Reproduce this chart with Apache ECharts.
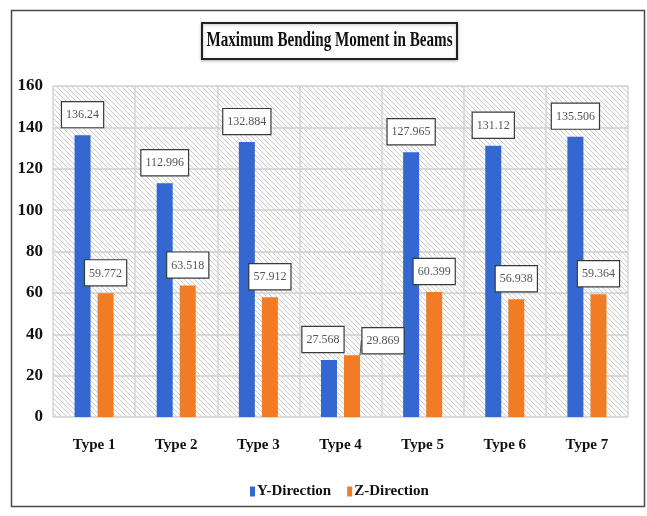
<!DOCTYPE html>
<html>
<head>
<meta charset="utf-8">
<script src="https://cdn.jsdelivr.net/npm/echarts@6/dist/echarts.min.js"></script>
<style>
  html, body { margin: 0; padding: 0; background: #fff; }
  #chart { width: 647px; height: 516px; }
</style>
</head>
<body>
<div id="chart"></div>
<script>
// Beam bending moments per section type
const categories = ['Type 1', 'Type 2', 'Type 3', 'Type 4', 'Type 5', 'Type 6', 'Type 7'];
const yDirection = [136.24, 112.996, 132.884, 27.568, 127.965, 131.12, 135.506];
const zDirection = [59.772, 63.518, 57.912, 29.869, 60.399, 56.938, 59.364];
const valueTicks = [0, 20, 40, 60, 80, 100, 120, 140, 160];

// horizontal nudges (px) for value boxes so they sit clear of neighbours
const yLabelShift = [0, 0, 0, -6, 0, 0, 0];
const zLabelShift = [12, 13, 0, 0, 15, 16, 18];
// the one Z box that is pulled aside and tied back with a leader line
const calloutIndex = 3;

const SERIF = "'Liberation Serif', 'Times New Roman', serif";

// fine diagonal hatching for the plot background
function hatchPattern() {
  const c = document.createElement('canvas');
  c.width = 5; c.height = 5;
  const g = c.getContext('2d');
  g.fillStyle = '#fbfbfb';
  g.fillRect(0, 0, 5, 5);
  g.strokeStyle = '#cfcfcf';
  g.lineWidth = 1;
  g.beginPath();
  g.moveTo(-1, -1); g.lineTo(6, 6);
  g.moveTo(-1, 4); g.lineTo(1, 6);
  g.moveTo(4, -1); g.lineTo(6, 1);
  g.stroke();
  return c;
}

const boxLabel = {
  show: true,
  position: 'top',
  distance: 8,
  fontFamily: SERIF,
  fontSize: 12,
  color: '#555',
  backgroundColor: '#fff',
  borderColor: '#3a3a3a',
  borderWidth: 1.2,
  padding: [7, 4, 6, 4],
  formatter: p => String(p.value)
};

const yData = yDirection.map((v, i) => ({ value: v, label: { offset: [yLabelShift[i], 0] } }));
const zData = zDirection.map((v, i) => (
  i === calloutIndex
    ? { value: v, labelLine: { show: true, lineStyle: { color: '#555', width: 1 } } }
    : { value: v, label: { offset: [zLabelShift[i], 0] } }
));

const chart = echarts.init(document.getElementById('chart'), null, { renderer: 'canvas' });

chart.setOption({
  animation: false,
  backgroundColor: '#fff',
  textStyle: { fontFamily: SERIF },
  grid: {
    left: 53, right: 19, top: 86, bottom: 99,
    show: true,
    borderWidth: 0,
    backgroundColor: { image: hatchPattern(), repeat: 'repeat' }
  },
  legend: {
    left: 245, top: 479,
    itemWidth: 5, itemHeight: 10, itemGap: 16,
    icon: 'rect',
    textStyle: { fontFamily: SERIF, fontWeight: 'bold', fontSize: 15, color: '#111', padding: [0, 0, 0, -3] },
    data: ['Y-Direction', 'Z-Direction']
  },
  xAxis: {
    type: 'category',
    data: categories,
    axisLine: { show: false },
    axisTick: { show: false },
    axisLabel: { margin: 21, fontFamily: SERIF, fontWeight: 'bold', fontSize: 15, color: '#111' },
    splitLine: { show: true, lineStyle: { color: '#d4d4d4', width: 1.5 } }
  },
  yAxis: {
    type: 'value',
    min: valueTicks[0],
    max: valueTicks[valueTicks.length - 1],
    interval: valueTicks[1] - valueTicks[0],
    axisLine: { show: false },
    axisTick: { show: false },
    axisLabel: { margin: 10, fontFamily: SERIF, fontWeight: 'bold', fontSize: 17, color: '#111' },
    splitLine: { show: true, lineStyle: { color: '#cfcfcf', width: 1.5 } }
  },
  series: [
    {
      name: 'Y-Direction',
      type: 'bar',
      data: yData,
      barWidth: 16,
      barGap: '44%',
      itemStyle: { color: '#3468d0' },
      label: boxLabel
    },
    {
      name: 'Z-Direction',
      type: 'bar',
      data: zData,
      barWidth: 16,
      barGap: '44%',
      itemStyle: { color: '#f27c25' },
      label: boxLabel,
      labelLayout: p => (p.dataIndex === calloutIndex ? { dx: 31, dy: 6 } : {}),
      labelLine: { show: false }
    }
  ],
  graphic: [
    {
      type: 'rect',
      shape: { x: 11.5, y: 10.5, width: 633, height: 496 },
      style: { fill: 'none', stroke: '#4a4a4a', lineWidth: 1.5 },
      silent: true
    },
    {
      type: 'rect',
      shape: { x: 202, y: 23, width: 255, height: 36 },
      style: { fill: '#fff', stroke: '#222', lineWidth: 2, shadowColor: 'rgba(0,0,0,0.25)', shadowBlur: 3, shadowOffsetY: 1 },
      silent: true
    },
    {
      // narrow, tall headline lettering
      type: 'text',
      x: 329.5, y: 41,
      scaleX: 0.72,
      style: {
        text: 'Maximum Bending Moment in Beams',
        font: "bold 21px 'Liberation Serif', serif",
        fill: '#111',
        align: 'center',
        verticalAlign: 'middle'
      },
      silent: true
    }
  ]
});
</script>
</body>
</html>
